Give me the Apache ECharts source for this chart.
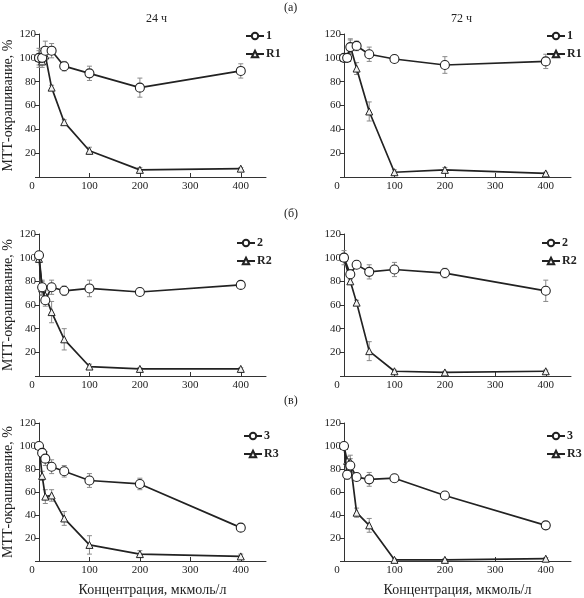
<!DOCTYPE html>
<html>
<head>
<meta charset="utf-8">
<script src="https://cdn.jsdelivr.net/npm/echarts@6/dist/echarts.min.js"></script>
<style>
html,body{margin:0;padding:0;background:#fff;}
#chart{width:584px;height:598px;}
</style>
</head>
<body>
<div id="chart"></div>
<script>
// Concentrations (мкмоль/л)
const conc = [0, 6.25, 12.5, 25, 50, 100, 200, 400];
const xTickValues = [0, 100, 200, 300, 400];

// (а) 24 ч
const c1_24 = [100, 100, 106, 106, 93, 87, 75, 89];
const c1_24_err = [8, 6, 8, 6, 4, 6, 8, 6];
const r1_24 = [100, 97, 102, 75, 46, 22, 6, 7];
const r1_24_err = [6, 5, 3, 2, 2, 3, 2, 1];
// (а) 72 ч
const c1_72 = [100, 100, 109, 110, 103, 99, 94, 97];
const c1_72_err = [2, 2, 6, 4, 6, 2, 7, 6];
const r1_72 = [100, 100, 110, 91, 55, 4, 6, 3];
const r1_72_err = [2, 2, 6, 5, 8, 2, 2, 1];
// (б) 24 ч
const c2_24 = [102, 75, 64, 75, 72, 74, 71, 77];
const c2_24_err = [3, 6, 5, 6, 4, 7, 2, 2];
const r2_24 = [99, 74, 68, 54, 31, 8, 6, 6];
const r2_24_err = [3, 6, 4, 9, 9, 2, 1, 1];
// (б) 72 ч
const c2_72 = [100, null, 86, 94, 88, 90, 87, 72];
const c2_72_err = [6, 0, 4, 2, 6, 6, 4, 9];
const r2_72 = [100, null, 80, 62, 21, 4, 3, 4];
const r2_72_err = [3, 0, 2, 2, 8, 1, 1, 1];
// (в) 24 ч
const c3_24 = [100, 94, 89, 82, 78, 70, 67, 29];
const c3_24_err = [2, 4, 6, 6, 5, 6, 5, 3];
const r3_24 = [100, 74, 56, 57, 37, 14, 6, 4];
const r3_24_err = [2, 4, 6, 5, 6, 8, 3, 2];
// (в) 72 ч
const c3_72 = [100, 75, 83, 73, 71, 72, 57, 31];
const c3_72_err = [3, 4, 6, 3, 6, 2, 2, 2];
const r3_72 = [100, 87, 86, 42, 31, 1, 1, 2];
const r3_72_err = [3, 4, 6, 4, 6, 1, 1, 1];

const FONT = "'Liberation Serif', 'DejaVu Serif', serif";
const INK = '#222';

const panels = [
  {left: 39, top: 34, height: 143, c: c1_24, ce: c1_24_err, r: r1_24, re: r1_24_err, names: ['1', 'R1'], lg: {left: 240, top: 25}, yName: true, xName: false},
  {left: 344, top: 34, height: 143, c: c1_72, ce: c1_72_err, r: r1_72, re: r1_72_err, names: ['1', 'R1'], lg: {left: 541, top: 25}, yName: false, xName: false},
  {left: 39, top: 234, height: 142, c: c2_24, ce: c2_24_err, r: r2_24, re: r2_24_err, names: ['2', 'R2'], lg: {left: 231, top: 232}, yName: true, xName: false},
  {left: 344, top: 234, height: 142, c: c2_72, ce: c2_72_err, r: r2_72, re: r2_72_err, names: ['2', 'R2'], lg: {left: 536, top: 232}, yName: false, xName: false},
  {left: 39, top: 423, height: 141, c: c3_24, ce: c3_24_err, r: r3_24, re: r3_24_err, names: ['3', 'R3'], lg: {left: 238, top: 425}, yName: true, xName: true},
  {left: 344, top: 423, height: 141, c: c3_72, ce: c3_72_err, r: r3_72, re: r3_72_err, names: ['3', 'R3'], lg: {left: 541, top: 425}, yName: false, xName: true}
];

function pts(vals) {
  return conc.map((x, k) => vals[k] == null ? null : [x, vals[k]]).filter(Boolean);
}
function errPts(vals, errs) {
  return conc.map((x, k) => vals[k] == null ? null : [x, vals[k], errs[k]]).filter(Boolean);
}
function errRender(params, api) {
  const x = api.value(0), y = api.value(1), e = api.value(2);
  const t = api.coord([x, y + e]);
  const b = api.coord([x, y - e]);
  const w = 2.5;
  const st = {stroke: '#8a8a8a', lineWidth: 1};
  return {type: 'group', children: [
    {type: 'line', shape: {x1: t[0], y1: t[1], x2: b[0], y2: b[1]}, style: st},
    {type: 'line', shape: {x1: t[0] - w, y1: t[1], x2: t[0] + w, y2: t[1]}, style: st},
    {type: 'line', shape: {x1: b[0] - w, y1: b[1], x2: b[0] + w, y2: b[1]}, style: st}
  ]};
}

const grid = [], xAxis = [], yAxis = [], series = [], legend = [];
panels.forEach((p, i) => {
  grid.push({left: p.left, top: p.top, width: 227, height: p.height, containLabel: false});
  xAxis.push({
    type: 'value', gridIndex: i, min: 0, max: 450,
    name: p.xName ? 'Концентрация, мкмоль/л' : '',
    nameLocation: 'middle', nameGap: 22,
    nameTextStyle: {fontFamily: FONT, fontSize: 14, color: INK},
    axisLine: {show: true, onZero: false, lineStyle: {color: '#333', width: 1}},
    axisTick: {show: true, inside: true, length: 4, customValues: [100, 200, 300, 400], lineStyle: {color: '#333'}},
    splitLine: {show: false},
    axisLabel: {
      customValues: xTickValues,
      fontFamily: FONT, fontSize: 11, color: INK, margin: 4,
      formatter: v => v === 0 ? '{z|0}' : String(v),
      rich: {z: {fontFamily: FONT, fontSize: 11, color: INK, padding: [0, 14, 0, 0]}}
    }
  });
  yAxis.push({
    type: 'value', gridIndex: i, min: 0, max: 120, interval: 20,
    name: p.yName ? 'МТТ-окрашивание, %' : '',
    nameLocation: 'middle', nameGap: 23, nameRotate: 90,
    nameTextStyle: {fontFamily: FONT, fontSize: 14, color: INK},
    axisLine: {show: true, lineStyle: {color: '#333', width: 1}},
    axisTick: {show: true, inside: false, length: 4, lineStyle: {color: '#333'}},
    splitLine: {show: false},
    axisLabel: {fontFamily: FONT, fontSize: 11, color: INK, margin: 3, formatter: v => v === 0 ? '' : String(v)}
  });
  series.push({type: 'custom', xAxisIndex: i, yAxisIndex: i, data: errPts(p.c, p.ce), renderItem: errRender, z: 1, silent: true, clip: false});
  series.push({type: 'custom', xAxisIndex: i, yAxisIndex: i, data: errPts(p.r, p.re), renderItem: errRender, z: 1, silent: true, clip: false});
  series.push({
    type: 'line', name: p.names[1], xAxisIndex: i, yAxisIndex: i, data: pts(p.r),
    symbol: 'triangle', symbolSize: 7, clip: false, z: 3,
    lineStyle: {color: INK, width: 1.7},
    itemStyle: {color: '#f2f2f2', borderColor: INK, borderWidth: 1}
  });
  series.push({
    type: 'line', name: p.names[0], xAxisIndex: i, yAxisIndex: i, data: pts(p.c),
    symbol: 'circle', symbolSize: 9, clip: false, z: 4,
    lineStyle: {color: INK, width: 1.7},
    itemStyle: {color: '#ffffff', borderColor: INK, borderWidth: 1.1}
  });
  legend.push({
    data: [p.names[0], p.names[1]], orient: 'vertical', left: p.lg.left, top: p.lg.top,
    itemWidth: 18, itemHeight: 8, itemGap: 6,
    textStyle: {fontFamily: FONT, fontSize: 12, fontWeight: 'bold', color: INK, padding: [0, 0, 0, -3]}
  });
});

const chart = echarts.init(document.getElementById('chart'), null, {renderer: 'canvas'});
chart.setOption({
  animation: false,
  backgroundColor: '#fff',
  grid, xAxis, yAxis, series, legend,
  graphic: [
    {type: 'text', left: 284, top: 2, style: {text: '(а)', font: '12px ' + FONT, fill: INK}},
    {type: 'text', left: 284, top: 208, style: {text: '(б)', font: '12px ' + FONT, fill: INK}},
    {type: 'text', left: 284, top: 395, style: {text: '(в)', font: '12px ' + FONT, fill: INK}},
    {type: 'text', left: 146, top: 13, style: {text: '24 ч', font: '12px ' + FONT, fill: INK}},
    {type: 'text', left: 451, top: 13, style: {text: '72 ч', font: '12px ' + FONT, fill: INK}}
  ]
});
</script>
</body>
</html>
